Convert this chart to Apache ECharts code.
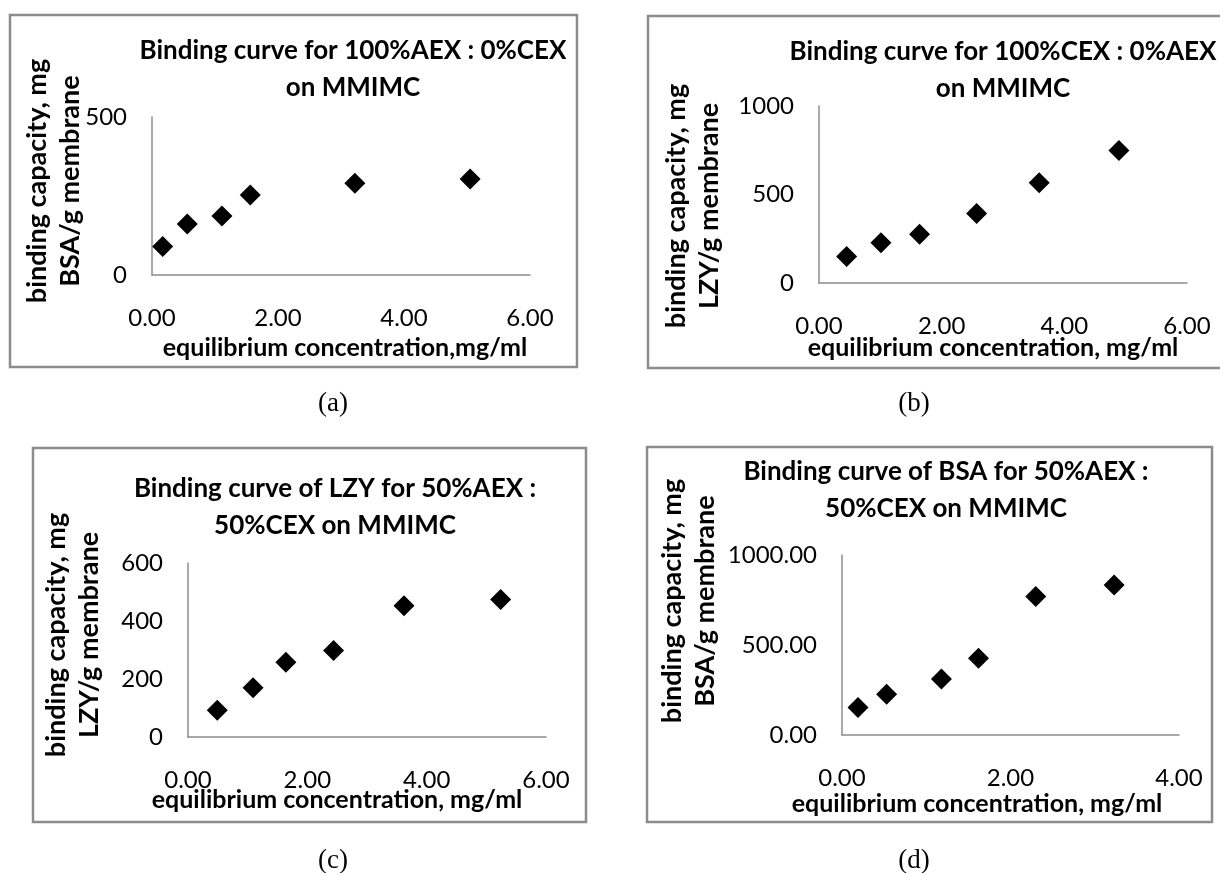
<!DOCTYPE html>
<html>
<head>
<meta charset="utf-8">
<title>Binding curves on MMIMC</title>
<script src="https://cdn.jsdelivr.net/npm/echarts@6/dist/echarts.min.js"></script>
<style>
  html, body { margin: 0; padding: 0; background: #fff; }
  #chart { width: 1220px; height: 873px; }
</style>
</head>
<body>
<div id="chart"></div>
<script>
// (a) BSA, 100%AEX : 0%CEX
const aX = [0.17, 0.56, 1.11, 1.56, 3.22, 5.05];
const aY = [90, 161, 187, 253, 290, 304];
// (b) LZY, 100%CEX : 0%AEX
const bX = [0.45, 1.01, 1.64, 2.57, 3.59, 4.89];
const bY = [150, 228, 276, 392, 566, 749];
// (c) LZY, 50%AEX : 50%CEX
const cX = [0.49, 1.09, 1.64, 2.44, 3.62, 5.24];
const cY = [92, 170, 258, 298, 453, 474];
// (d) BSA, 50%AEX : 50%CEX
const dX = [0.19, 0.53, 1.18, 1.62, 2.30, 3.23];
const dY = [153, 227, 311, 427, 769, 834];

// axis ranges [min, max, interval, decimals]
const xRanges = [[0, 6, 2, 2], [0, 6, 2, 2], [0, 6, 2, 2], [0, 4, 2, 2]];
const yRanges = [[0, 500, 500, 0], [0, 1000, 500, 0], [0, 600, 200, 0], [0, 1000, 500, 2]];

const titles = [
    'Binding curve for 100%AEX : 0%CEX\non MMIMC',
    'Binding curve for 100%CEX : 0%AEX\non MMIMC',
    'Binding curve of LZY for 50%AEX :\n50%CEX on MMIMC',
    'Binding curve of BSA for 50%AEX :\n50%CEX on MMIMC'
];
const xNames = [
    'equilibrium concentration,mg/ml',
    'equilibrium concentration, mg/ml',
    'equilibrium concentration, mg/ml',
    'equilibrium concentration, mg/ml'
];
const yNames = [
    'binding capacity, mg\nBSA/g membrane',
    'binding capacity, mg\nLZY/g membrane',
    'binding capacity, mg\nLZY/g membrane',
    'binding capacity, mg\nBSA/g membrane'
];
const panelTags = ['(a)', '(b)', '(c)', '(d)'];

const SANS = "Lato, 'Open Sans', sans-serif";
const AXIS_GREY = '#8c8c8c';

// layout of each panel (pixels)
const panels = [
    { grid: { left: 152, top: 117, width: 378, height: 158 },
      box: [10, 15, 567, 352], title: [353, 69], xName: [345, 348], yName: [54, 181], tag: [333, 404] },
    { grid: { left: 819, top: 106, width: 368, height: 177 },
      box: [648, 16, 600, 352], title: [1003, 70], xName: [993, 348], yName: [693, 206], tag: [914, 404] },
    { grid: { left: 188, top: 563, width: 358, height: 174 },
      box: [33, 448, 553, 374], title: [335, 507], xName: [337, 800], yName: [73, 635], tag: [333, 861] },
    { grid: { left: 842, top: 555, width: 337, height: 180 },
      box: [647, 447, 565, 375], title: [946, 490], xName: [977, 804], yName: [689, 601], tag: [914, 861] }
];

const seriesData = [
    aX.map((x, i) => [x, aY[i]]),
    bX.map((x, i) => [x, bY[i]]),
    cX.map((x, i) => [x, cY[i]]),
    dX.map((x, i) => [x, dY[i]])
];

const chart = echarts.init(document.getElementById('chart'));

const graphic = [];
panels.forEach((p, i) => {
    // chart area border
    graphic.push({
        type: 'rect',
        shape: { x: p.box[0], y: p.box[1], width: p.box[2], height: p.box[3] },
        style: { fill: '#fff', stroke: AXIS_GREY, lineWidth: 2.5 },
        z: -10
    });
    graphic.push({
        type: 'text', x: p.title[0], y: p.title[1],
        style: {
            text: titles[i], font: 'bold 26px ' + SANS, fill: '#000',
            align: 'center', verticalAlign: 'middle', textAlign: 'center', textVerticalAlign: 'middle',
            lineHeight: 37
        }
    });
    graphic.push({
        type: 'text', x: p.xName[0], y: p.xName[1],
        style: {
            text: xNames[i], font: 'bold 25px ' + SANS, fill: '#000',
            align: 'center', verticalAlign: 'middle', textAlign: 'center', textVerticalAlign: 'middle'
        }
    });
    graphic.push({
        type: 'text', x: p.yName[0], y: p.yName[1], rotation: Math.PI / 2,
        style: {
            text: yNames[i], font: 'bold 27px ' + SANS, fill: '#000',
            align: 'center', verticalAlign: 'middle', textAlign: 'center', textVerticalAlign: 'middle',
            lineHeight: 33
        }
    });
    graphic.push({
        type: 'text', x: p.tag[0], y: p.tag[1],
        style: {
            text: panelTags[i], font: "27px 'Liberation Serif', serif", fill: '#000',
            align: 'center', verticalAlign: 'middle', textAlign: 'center', textVerticalAlign: 'middle'
        }
    });
});

const option = {
    backgroundColor: '#fff',
    animation: false,
    grid: panels.map(p => p.grid),
    xAxis: xRanges.map((r, i) => ({
        type: 'value', gridIndex: i,
        min: r[0], max: r[1], interval: r[2],
        axisLine: { show: true, onZero: false, lineStyle: { color: AXIS_GREY, width: 1.5 } },
        axisTick: { show: false },
        splitLine: { show: false },
        axisLabel: {
            margin: 31, fontSize: 24, color: '#000', fontFamily: SANS,
            formatter: v => v.toFixed(r[3])
        }
    })),
    yAxis: yRanges.map((r, i) => ({
        type: 'value', gridIndex: i,
        min: r[0], max: r[1], interval: r[2],
        axisLine: { show: true, onZero: false, lineStyle: { color: AXIS_GREY, width: 1.5 } },
        axisTick: { show: false },
        splitLine: { show: false },
        axisLabel: {
            margin: 25, fontSize: 24, color: '#000', fontFamily: SANS,
            formatter: v => v.toFixed(r[3])
        }
    })),
    graphic: graphic,
    series: seriesData.map((d, i) => ({
        type: 'scatter',
        xAxisIndex: i, yAxisIndex: i,
        symbol: 'diamond', symbolSize: 21,
        itemStyle: { color: '#000', opacity: 1 },
        data: d
    }))
};

chart.setOption(option);
</script>
</body>
</html>
